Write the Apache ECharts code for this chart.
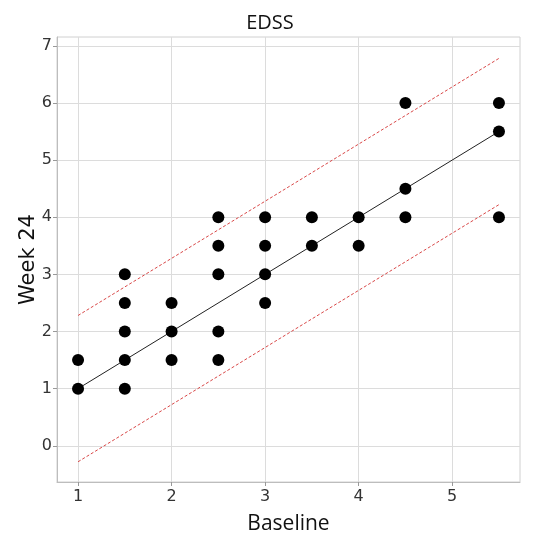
<!DOCTYPE html>
<html>
<head>
<meta charset="utf-8">
<script src="https://cdn.jsdelivr.net/npm/echarts@6/dist/echarts.min.js"></script>
<style>
  html, body { margin: 0; padding: 0; background: #fff; }
  #chart { width: 540px; height: 540px; }
</style>
</head>
<body>
<div id="chart"></div>
<script>
// EDSS scores: baseline vs week 24
const baseline = [1, 1, 1.5, 1.5, 1.5, 1.5, 1.5, 2, 2, 2, 2.5, 2.5, 2.5, 2.5, 2.5, 3, 3, 3, 3, 3.5, 3.5, 4, 4, 4.5, 4.5, 4.5, 5.5, 5.5, 5.5];
const week24   = [1, 1.5, 1, 1.5, 2, 2.5, 3, 1.5, 2, 2.5, 1.5, 2, 3, 3.5, 4, 2.5, 3, 3.5, 4, 3.5, 4, 3.5, 4, 4, 4.5, 6, 4, 5.5, 6];

// Reference line and limits, evaluated at the ends of the baseline range
const lineX  = [1, 5.5];
const lineY  = [1, 5.5];
const upperY = [2.28, 6.78];
const lowerY = [-0.28, 4.22];

const xTicks = [1, 2, 3, 4, 5];
const yTicks = [0, 1, 2, 3, 4, 5, 6, 7];

const pairs = (xs, ys) => xs.map((x, i) => [x, ys[i]]);

const chart = echarts.init(document.getElementById('chart'), null, { renderer: 'canvas' });

const gridLine = { show: true, lineStyle: { color: '#dcdcdc', width: 1 } };

chart.setOption({
  animation: false,
  backgroundColor: '#ffffff',
  title: {
    text: 'EDSS',
    left: 'center',
    top: 8,
    textStyle: { fontFamily: 'Open Sans', fontSize: 20, fontWeight: 'normal', color: '#111' }
  },
  grid: { left: 57, right: 20, top: 37, bottom: 52, containLabel: false,
          show: true, borderColor: '#d0d0d0', borderWidth: 1 },
  xAxis: {
    type: 'value',
    min: 0.775, max: 5.725,
    name: 'Baseline',
    nameLocation: 'middle',
    nameGap: 32,
    nameMoveOverlap: false,
    nameTextStyle: { fontFamily: 'Open Sans', fontSize: 21, color: '#111' },
    axisLine: { show: true, onZero: false, lineStyle: { color: '#bdbdbd' } },
    axisTick: { show: true, length: 4, lineStyle: { color: '#999' }, customValues: xTicks },
    axisLabel: { customValues: xTicks, fontFamily: 'DejaVu Sans', fontSize: 16, color: '#333', margin: 7 },
    splitLine: gridLine
  },
  yAxis: {
    type: 'value',
    min: -0.634, max: 7.154,
    name: 'Week 24',
    nameLocation: 'middle',
    nameGap: 18,
    nameMoveOverlap: false,
    nameTextStyle: { fontFamily: 'DejaVu Sans', fontSize: 21, color: '#111' },
    axisLine: { show: true, onZero: false, lineStyle: { color: '#bdbdbd' } },
    axisTick: { show: true, length: 4, lineStyle: { color: '#999' }, customValues: yTicks },
    axisLabel: { customValues: yTicks, fontFamily: 'DejaVu Sans', fontSize: 16, color: '#333', margin: 5 },
    splitLine: gridLine
  },
  series: [
    {
      type: 'line',
      data: pairs(lineX, upperY),
      symbol: 'none',
      lineStyle: { color: '#d94848', width: 1, type: [3, 2] },
      z: 2
    },
    {
      type: 'line',
      data: pairs(lineX, lowerY),
      symbol: 'none',
      lineStyle: { color: '#d94848', width: 1, type: [3, 2] },
      z: 2
    },
    {
      type: 'line',
      data: pairs(lineX, lineY),
      symbol: 'none',
      lineStyle: { color: '#222', width: 1 },
      z: 3
    },
    {
      type: 'scatter',
      data: pairs(baseline, week24),
      symbol: 'circle',
      symbolSize: 12,
      itemStyle: { color: '#000', opacity: 1 },
      z: 4
    }
  ]
});
</script>
</body>
</html>
